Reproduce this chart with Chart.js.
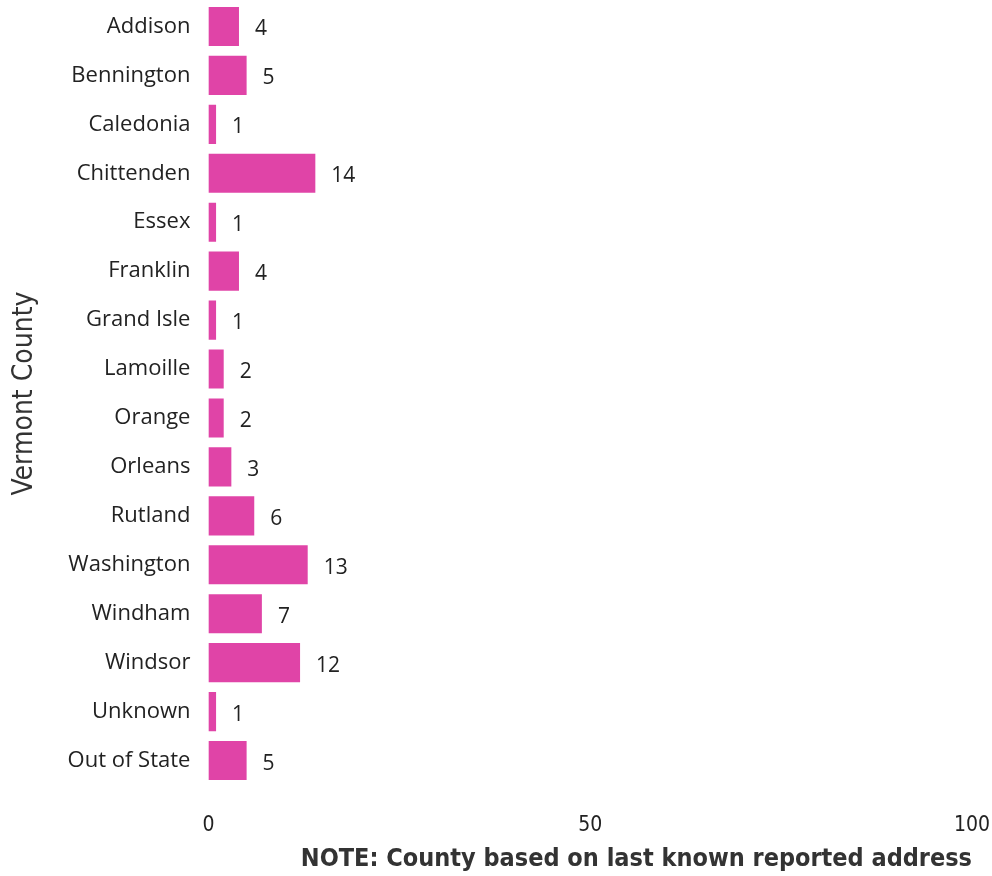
<!DOCTYPE html>
<html>
<head>
<meta charset="utf-8">
<script src="https://cdn.jsdelivr.net/npm/chart.js@4"></script>
<style>
  body { margin: 0; background: #fff; }
  #chartContainer { width: 992px; height: 876px; }
</style>
</head>
<body>
<div id="chartContainer"><canvas id="myChart"></canvas></div>
<script>
const counties = ['Addison', 'Bennington', 'Caledonia', 'Chittenden', 'Essex', 'Franklin', 'Grand Isle',
  'Lamoille', 'Orange', 'Orleans', 'Rutland', 'Washington', 'Windham', 'Windsor', 'Unknown', 'Out of State'];
const deaths = [4, 5, 1, 14, 1, 4, 1, 2, 2, 3, 6, 13, 7, 12, 1, 5];
const xTicks = [0, 50, 100];

// value labels to the right of each bar
const barLabels = {
  id: 'barLabels',
  afterDatasetsDraw(chart) {
    const ctx = chart.ctx;
    const meta = chart.getDatasetMeta(0);
    ctx.save();
    ctx.font = '21px "Open Sans"';
    ctx.fillStyle = '#222';
    ctx.textAlign = 'left';
    ctx.textBaseline = 'middle';
    meta.data.forEach((bar, i) => {
      ctx.fillText(deaths[i], bar.x + 16, bar.y + 3);
    });
    ctx.restore();
  }
};

const ctx = document.getElementById('myChart').getContext('2d');
const countyChart = new Chart(ctx, {
  type: 'bar',
  data: {
    labels: counties,
    datasets: [{
      data: deaths,
      backgroundColor: '#E044A7',
      categoryPercentage: 1,
      barPercentage: 0.8
    }]
  },
  options: {
    indexAxis: 'y',
    responsive: true,
    maintainAspectRatio: false,
    animation: false,
    layout: { padding: { top: 2, right: 20, bottom: 2, left: 6 } },
    plugins: {
      legend: { display: false },
      tooltip: { enabled: false }
    },
    scales: {
      x: {
        min: 0,
        max: 100,
        afterBuildTicks: (axis) => { axis.ticks = xTicks.map(v => ({ value: v })); },
        afterFit: (scale) => { scale.height = 89; scale.paddingLeft = 0; scale.paddingRight = 0; },
        grid: { display: false, drawTicks: false },
        border: { display: false },
        ticks: {
          color: '#222',
          padding: 28,
          font: { family: '"DejaVu Sans Condensed"', size: 21 }
        },
        title: {
          display: true,
          text: 'NOTE: County based on last known reported address',
          align: 'end',
          color: '#333',
          padding: { top: 6, bottom: 0 },
          font: { family: '"DejaVu Sans Condensed"', size: 25, weight: 'bold' }
        }
      },
      y: {
        afterFit: (scale) => { scale.paddingTop = 0; scale.paddingBottom = 0; },
        grid: { display: false, drawTicks: false },
        border: { display: false },
        ticks: {
          color: '#222',
          padding: 18,
          font: { family: '"Open Sans"', size: 22 }
        },
        title: {
          display: true,
          text: 'Vermont County',
          color: '#333',
          padding: { top: 2, bottom: 8 },
          font: { family: '"DejaVu Sans Condensed"', size: 28 }
        }
      }
    }
  },
  plugins: [barLabels]
});
</script>
</body>
</html>
